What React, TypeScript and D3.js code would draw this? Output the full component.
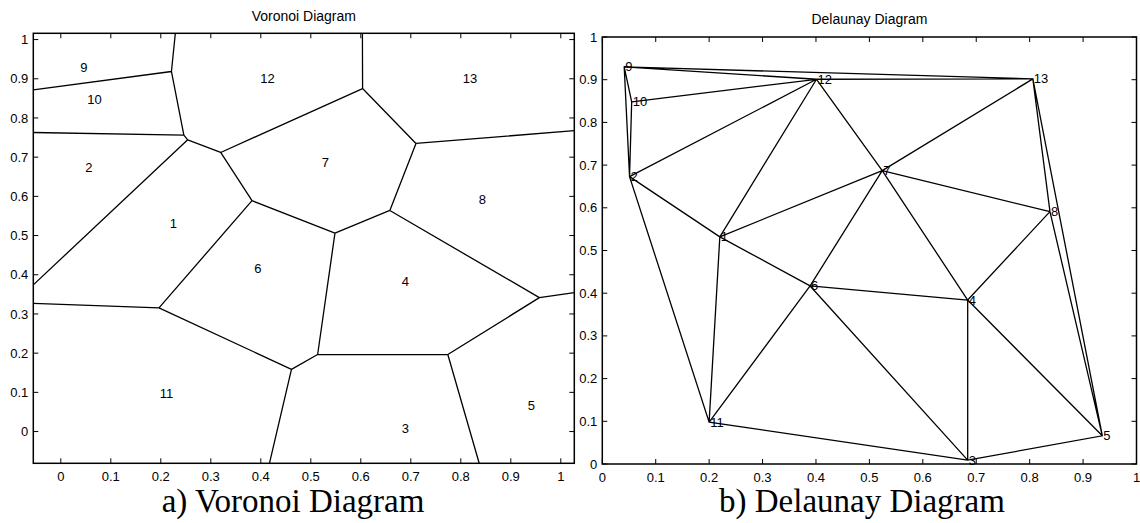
import React from "react";
import * as d3 from "d3";

// Sites (shared by both panels)
const siteLabels = ["1", "2", "3", "4", "5", "6", "7", "8", "9", "10", "11", "12", "13"];
const siteX = [0.220, 0.051, 0.684, 0.684, 0.936, 0.389, 0.524, 0.838, 0.041, 0.055, 0.200, 0.401, 0.806];
const siteY = [0.532, 0.673, 0.009, 0.384, 0.066, 0.417, 0.687, 0.591, 0.930, 0.848, 0.098, 0.901, 0.902];

// Axis domains and ticks
const voronoiXDomain = [-0.055, 1.027];
const voronoiYDomain = [-0.081, 1.016];
const delaunayXDomain = [0, 1];
const delaunayYDomain = [0, 1];
const tickValues = [0, 0.1, 0.2, 0.3, 0.4, 0.5, 0.6, 0.7, 0.8, 0.9, 1];
const tickLabels = ["0", "0.1", "0.2", "0.3", "0.4", "0.5", "0.6", "0.7", "0.8", "0.9", "1"];

const titles = ["Voronoi Diagram", "Delaunay Diagram"];
const captions = ["a) Voronoi Diagram", "b) Delaunay Diagram"];

const SANS = "'Liberation Sans', Arial, Helvetica, sans-serif";
const SERIF = "'Liberation Serif', 'Times New Roman', serif";

type Box = { x0: number; x1: number; y0: number; y1: number };
type Scale = d3.ScaleLinear<number, number>;

// A path context that maps data coordinates through scales
function scaledContext(xs: Scale, ys: Scale) {
  let d = "";
  return {
    moveTo(x: number, y: number) { d += `M${xs(x)},${ys(y)}`; },
    lineTo(x: number, y: number) { d += `L${xs(x)},${ys(y)}`; },
    closePath() { d += "Z"; },
    arc() {},
    rect() {},
    toString() { return d; },
  };
}

function Axes({ box, xs, ys }: { box: Box; xs: Scale; ys: Scale }) {
  const tl = 5;
  return (
    <g>
      <rect x={box.x0} y={box.y0} width={box.x1 - box.x0} height={box.y1 - box.y0} fill="none" stroke="#000" strokeWidth={1.5} />
      {tickValues.map((v, i) => (
        <g key={"x" + i}>
          <line x1={xs(v)} x2={xs(v)} y1={box.y1} y2={box.y1 - tl} stroke="#000" strokeWidth={1} />
          <line x1={xs(v)} x2={xs(v)} y1={box.y0} y2={box.y0 + tl} stroke="#000" strokeWidth={1} />
          <text x={xs(v)} y={box.y1 + 18} textAnchor="middle" fontFamily={SANS} fontSize={13}>{tickLabels[i]}</text>
        </g>
      ))}
      {tickValues.map((v, i) => (
        <g key={"y" + i}>
          <line x1={box.x0} x2={box.x0 + tl} y1={ys(v)} y2={ys(v)} stroke="#000" strokeWidth={1} />
          <line x1={box.x1} x2={box.x1 - tl} y1={ys(v)} y2={ys(v)} stroke="#000" strokeWidth={1} />
          <text x={box.x0 - 5} y={ys(v)} dy="0.35em" textAnchor="end" fontFamily={SANS} fontSize={13}>{tickLabels[i]}</text>
        </g>
      ))}
    </g>
  );
}

export default function App() {
  const boxL: Box = { x0: 33.3, x1: 574.3, y0: 33.3, y1: 463.3 };
  const boxR: Box = { x0: 602.3, x1: 1136.5, y0: 37, y1: 464 };

  const xL = d3.scaleLinear().domain(voronoiXDomain).range([boxL.x0, boxL.x1]);
  const yL = d3.scaleLinear().domain(voronoiYDomain).range([boxL.y1, boxL.y0]);
  const xR = d3.scaleLinear().domain(delaunayXDomain).range([boxR.x0, boxR.x1]);
  const yR = d3.scaleLinear().domain(delaunayYDomain).range([boxR.y1, boxR.y0]);

  const pts: [number, number][] = siteX.map((x, i) => [x, siteY[i]]);
  const del = d3.Delaunay.from(pts);

  // Voronoi computed in data space, clipped to the left panel's data bounds
  const vor = del.voronoi([voronoiXDomain[0], voronoiYDomain[0], voronoiXDomain[1], voronoiYDomain[1]]);
  const ctxV = scaledContext(xL, yL);
  vor.render(ctxV as any);
  const voronoiPath = ctxV.toString();

  // Delaunay triangulation in data space
  const ctxD = scaledContext(xR, yR);
  del.render(ctxD as any);
  const delaunayPath = ctxD.toString();

  return (
    <svg width={1140} height={523} style={{ position: "absolute", left: 0, top: 0, background: "#fff" }}>
      <rect x={0} y={0} width={1140} height={523} fill="#fff" />
      {/* Left panel: Voronoi */}
      <path d={voronoiPath} fill="none" stroke="#000" strokeWidth={1.3} />
      {pts.map((p, i) => (
        <text key={"lv" + i} x={xL(p[0]) - 1} y={yL(p[1])} dy="0.35em" fontFamily={SANS} fontSize={13}>{siteLabels[i]}</text>
      ))}
      <Axes box={boxL} xs={xL} ys={yL} />
      <text x={(boxL.x0 + boxL.x1) / 2} y={21} textAnchor="middle" fontFamily={SANS} fontSize={14}>{titles[0]}</text>
      <text x={293} y={512} textAnchor="middle" fontFamily={SERIF} fontSize={33}>{captions[0]}</text>

      {/* Right panel: Delaunay */}
      <path d={delaunayPath} fill="none" stroke="#000" strokeWidth={1.3} />
      {pts.map((p, i) => (
        <text key={"rd" + i} x={xR(p[0]) + 1} y={yR(p[1])} dy="0.35em" fontFamily={SANS} fontSize={13}>{siteLabels[i]}</text>
      ))}
      <Axes box={boxR} xs={xR} ys={yR} />
      <text x={(boxR.x0 + boxR.x1) / 2} y={24} textAnchor="middle" fontFamily={SANS} fontSize={14}>{titles[1]}</text>
      <text x={862} y={512} textAnchor="middle" fontFamily={SERIF} fontSize={33}>{captions[1]}</text>
    </svg>
  );
}
